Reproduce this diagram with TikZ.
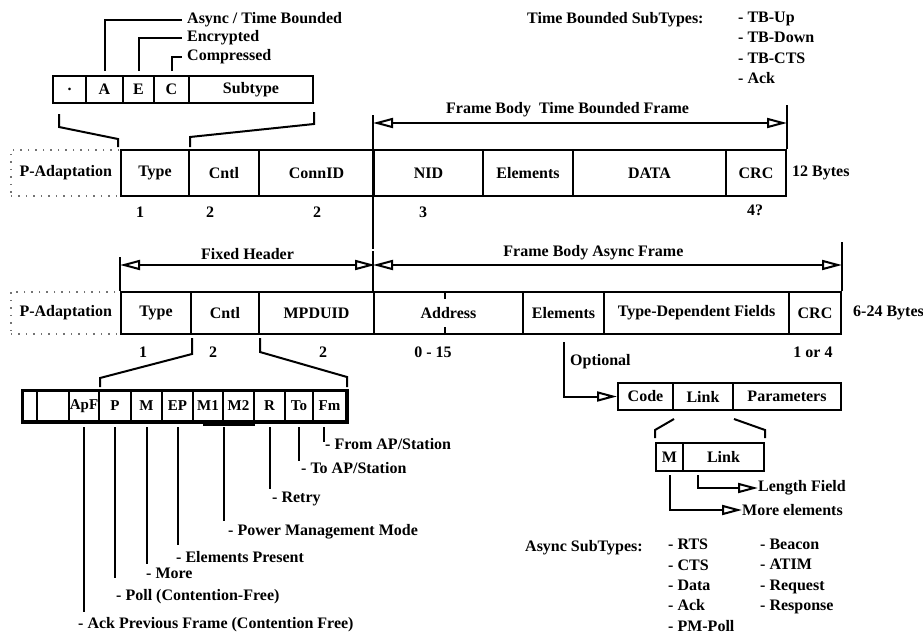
\documentclass[tikz,border=0pt]{standalone}
\usepackage{fontspec}
\setmainfont{Liberation Serif}
\usetikzlibrary{arrows.meta,positioning,shapes}

\tikzset{
  field/.style={draw,line width=2pt,inner sep=0pt,anchor=north west},
  toprow/.style={field,minimum height=46pt},
  botrow/.style={field,minimum height=42pt},
  pad/.style={draw=black!55,dash pattern=on 1.5pt off 6pt,line width=1.6pt,inner sep=0pt,anchor=north west},
  bit/.style={field,minimum height=30pt,font=\fontsize{15}{17}\selectfont\bfseries},
  lead/.style={line width=2pt},
  span/.style={line width=2pt,{Triangle[open,length=20pt,width=10pt]}-{Triangle[open,length=20pt,width=10pt]}},
  opentip/.style={line width=2pt,-{Triangle[open,length=20pt,width=10pt]}},
  txt/.style={inner sep=0pt,anchor=west},
}

\begin{document}
\begin{tikzpicture}[x=1pt,y=-1pt,font=\fontsize{16}{20.3}\selectfont\bfseries]
\useasboundingbox (0,0) rectangle (923,634);

% subtype byte
\node[field,minimum width=33pt,minimum height=27pt] (sdot) at (52,75) {.};
\node[field,minimum width=37pt,minimum height=27pt] (sa) at (85,75) {A};
\node[field,minimum width=31pt,minimum height=27pt] (se) at (122,75) {E};
\node[field,minimum width=35pt,minimum height=27pt] (sc) at (153,75) {C};
\node[field,minimum width=124pt,minimum height=27pt] (ssub) at (188,75) {Subtype};
\node[txt] (async) at (187,20) {Async / Time Bounded};
\node[txt] (encr) at (187,38) {Encrypted};
\node[txt] (compr) at (187,57) {Compressed};
\draw[lead] ([yshift=4pt]sa.north) |- ([xshift=-5pt]async.west);
\draw[lead] ([yshift=4pt]se.north) |- ([xshift=-5pt]encr.west);
\draw[lead] ([yshift=4pt]sc.north) |- ([xshift=-5pt]compr.west);

\node[txt] (tbsub) at (527,20) {Time Bounded SubTypes:};
\node[anchor=north west,align=left,inner sep=0pt] (tblist) at (738,12) {- TB-Up\\- TB-Down\\- TB-CTS\\- Ack};

% time bounded frame
\node[pad,minimum width=110pt,minimum height=46pt] (tpad) at (10,149) {P-Adaptation};
\node[toprow,minimum width=68pt] (ttype) at (120,149) {Type};
\node[toprow,minimum width=70pt] (tcntl) at (188,149) {Cntl};
\node[toprow,minimum width=115pt] (tconn) at (258,149) {ConnID};
\node[toprow,minimum width=109pt] (tnid) at (373,149) {NID};
\node[toprow,minimum width=90pt] (telem) at (482,149) {Elements};
\node[toprow,minimum width=153pt] (tdata) at (572,149) {DATA};
\node[toprow,minimum width=60pt] (tcrc) at (725,149) {CRC};
\node[txt,right=5pt of tcrc] (tbytes) {12 Bytes};

\draw[lead] ([shift={(7,10)}]sdot.south west) -- ++(0,13) -- ([shift={(-2,-10)}]ttype.north west) -- ([shift={(-2,-2)}]ttype.north west);
\draw[lead] ([shift={(0,8)}]ssub.south east) -- ++(0,12) -- ([shift={(0,-12)}]ttype.north east) -- ([shift={(0,-2)}]ttype.north east);

\draw[lead] ([shift={(0,-34)}]tnid.north west) -- ([shift={(0,52)}]tnid.south west);
\draw[lead] ([shift={(0,-44)}]tcrc.north east) -- (tcrc.north east);
\draw[span] ([shift={(0,-26)}]tnid.north west) -- ([shift={(0,-26)}]tcrc.north east) node[pos=.47,above=2pt] {Frame Body\ \ Time Bounded Frame};

\node (tl1) at (140,212) {1};
\node (tl2) at (210,212) {2};
\node (tl3) at (317,212) {2};
\node (tl4) at (423,212) {3};
\node (tl5) at (755,210) {4?};

% async frame
\node[pad,minimum width=110pt,minimum height=42pt] (bpad) at (10,291) {P-Adaptation};
\node[botrow,minimum width=70pt] (btype) at (120,291) {Type};
\node[botrow,minimum width=68pt] (bcntl) at (190,291) {Cntl};
\node[botrow,minimum width=115pt] (bmpdu) at (258,291) {MPDUID};
\node[botrow,minimum width=149pt] (baddr) at (373,291) {Address};
\node[botrow,minimum width=81pt] (belem) at (522,291) {Elements};
\node[botrow,minimum width=185pt] (btdf) at (603,291) {Type-Dependent Fields};
\node[botrow,minimum width=52pt] (bcrc) at (788,291) {CRC};
\node[txt,right=11pt of bcrc] (bbytes) {6-24 Bytes};
\draw[lead] ([xshift=72pt]baddr.north west) -- ++(0,8);
\draw[lead] ([xshift=72pt]baddr.south west) -- ++(0,-8);

\draw[lead] ([shift={(0,-34)}]btype.north west) -- (btype.north west);
\draw[lead] ([shift={(0,-40)}]baddr.north west) -- (baddr.north west);
\draw[lead] ([shift={(0,-49)}]bcrc.north east) -- (bcrc.north east);
\draw[span] ([shift={(0,-26)}]btype.north west) -- ([shift={(0,-26)}]bmpdu.north east) node[midway,above=1pt] {Fixed Header};
\draw[span] ([shift={(0,-26)}]baddr.north west) -- ([shift={(0,-26)}]bcrc.north east) node[pos=.47,above=1pt] {Frame Body Async Frame};

\node (bl1) at (143,352) {1};
\node (bl2) at (213,352) {2};
\node (bl3) at (323,352) {2};
\node (bl4) at (433,352) {0 - 15};
\node (bl5) at (813,352) {1 or 4};

% control bits
\node[bit,minimum width=14pt] (bitx) at (22,390) {};
\node[bit,minimum width=32pt] (bitz) at (36,390) {};
\node[bit,minimum width=30pt] (bitack) at (68,390) {ApF};
\node[bit,minimum width=32pt] (bitpoll) at (98,390) {P};
\node[bit,minimum width=31pt] (bitmore) at (130,390) {M};
\node[bit,minimum width=31pt] (bitep) at (161,390) {EP};
\node[bit,minimum width=30pt] (bitmone) at (192,390) {M1};
\node[bit,minimum width=31pt] (bitmtwo) at (222,390) {M2};
\node[bit,minimum width=31pt] (bitretry) at (253,390) {R};
\node[bit,minimum width=28pt] (bitto) at (284,390) {To};
\node[bit,minimum width=33pt] (bitfrom) at (312,390) {Fm};
\draw[line width=3pt] (bitx.north west) rectangle (bitfrom.south east);
\draw[lead] ([shift={(11,3)}]bitmone.south west) -- ([shift={(0,3)}]bitmtwo.south east);

\draw[lead] ([shift={(2,3)}]bcntl.south west) -- ++(0,16) -- ([shift={(0,-12)}]bitack.north east) -- ([shift={(0,-3)}]bitack.north east);
\draw[lead] ([shift={(0,3)}]bcntl.south east) -- ++(0,14) -- ([shift={(0,-13)}]bitfrom.north east) -- ([shift={(0,-3)}]bitfrom.north east);

\node[txt] (lack) at (78,625) {- Ack Previous Frame (Contention Free)};
\node[txt] (lpoll) at (116,597) {- Poll (Contention-Free)};
\node[txt] (lmore) at (146,573) {- More};
\node[txt] (lep) at (176,557) {- Elements Present};
\node[txt] (lpmm) at (228,532) {- Power Management Mode};
\node[txt] (lretry) at (272,499) {- Retry};
\node[txt] (lto) at (301,468) {- To AP/Station};
\node[txt] (lfrom) at (325,444) {- From AP/Station};
\draw[lead,shorten <=5pt,shorten >=6pt] (bitack.south) -- (bitack.south |- lack.north);
\draw[lead,shorten <=5pt,shorten >=12pt] (bitpoll.south) -- (bitpoll.south |- lpoll.north);
\draw[lead,shorten <=5pt,shorten >=3pt] (bitmore.south) -- (bitmore.south |- lmore.north);
\draw[lead,shorten <=5pt,shorten >=6pt] (bitep.south) -- (bitep.south |- lep.north);
\draw[lead,shorten <=5pt,shorten >=3pt] (bitmone.south east) -- (bitmone.south east |- lpmm.north);
\draw[lead,shorten <=5pt,shorten >=3pt] (bitretry.south) -- (bitretry.south |- lretry.north);
\draw[lead,shorten <=5pt,shorten >=1pt] (bitto.south) -- (bitto.south |- lto.north);
\draw[lead,shorten <=5pt,shorten >=2pt] ([xshift=-6pt]bitfrom.south) -- ([xshift=-6pt]bitfrom.south |- lfrom.center);

% elements
\node[txt] (optional) at (570,362) {Optional};
\node[field,minimum width=55pt,minimum height=27pt] (code) at (617,382) {Code};
\node[field,minimum width=60pt,minimum height=27pt] (link) at (672,382) {Link};
\node[field,minimum width=108pt,minimum height=27pt] (params) at (732,382) {Parameters};
\draw[opentip] ([yshift=-7pt]belem.south) |- (code.west);

\node[field,minimum width=27pt,minimum height=28pt] (mbit) at (655,442) {M};
\node[field,minimum width=81pt,minimum height=28pt] (mlink) at (682,442) {Link};
\draw[lead] ([yshift=-8pt]code.south east) -- ([shift={(0,-12)}]mbit.north west) -- ([shift={(0,-4)}]mbit.north west);
\draw[lead] ([yshift=-8pt]link.south east) -- ([shift={(0,-12)}]mlink.north east) -- ([shift={(0,-4)}]mlink.north east);

\node[txt] (lenfield) at (758,488) {Length Field};
\node[txt] (moreel) at (742,510) {More elements};
\draw[opentip] ([shift={(16,3)}]mlink.south west) |- (lenfield.west);
\draw[opentip] ([yshift=-3pt]mbit.south) |- (moreel.west);

\node[txt] (asub) at (525,548) {Async SubTypes:};
\node[anchor=north west,align=left,inner sep=0pt] (alist) at (668,539) {- RTS\\- CTS\\- Data\\- Ack\\- PM-Poll};
\node[anchor=north west,align=left,inner sep=0pt] (blist) at (760,539) {- Beacon\\- ATIM\\- Request\\- Response};
\end{tikzpicture}
\end{document}
